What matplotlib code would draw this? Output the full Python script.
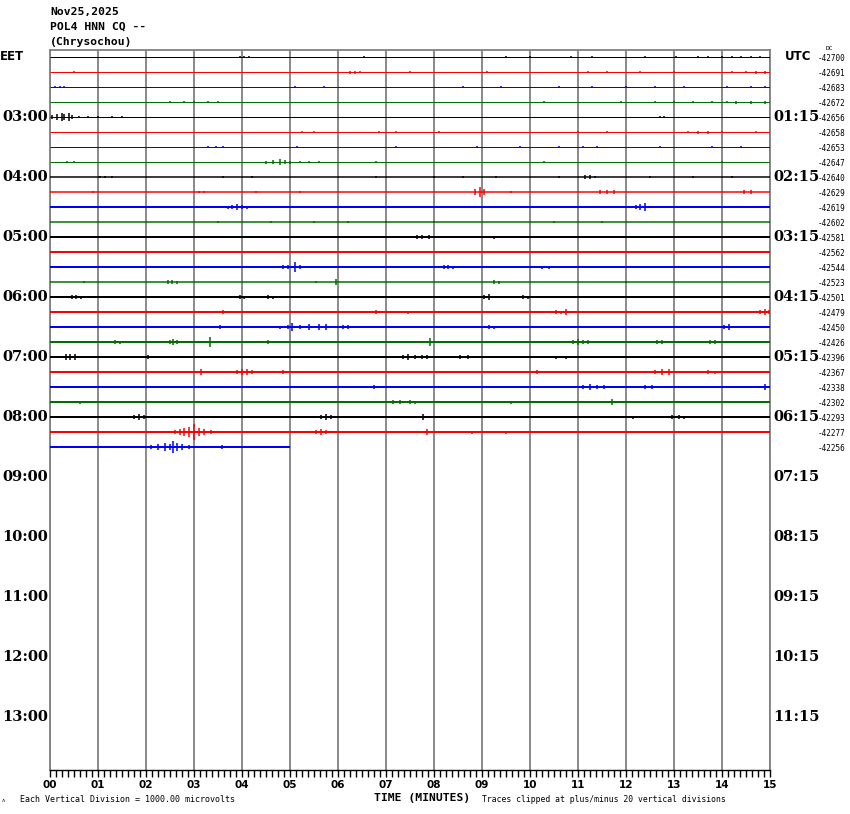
import matplotlib
matplotlib.use("Agg")
import matplotlib.pyplot as plt

# helicorder POL4 HNN CQ, one row = 15 minutes
title_lines = ["Nov25,2025", "POL4 HNN CQ --", "(Chrysochou)"]
trace_colors = ["#000000", "#ff0000", "#0000ff", "#006e00"]
left_labels = ["EET", "03:00", "04:00", "05:00", "06:00", "07:00", "08:00",
               "09:00", "10:00", "11:00", "12:00", "13:00"]
right_labels = ["UTC", "01:15", "02:15", "03:15", "04:15", "05:15", "06:15",
                "07:15", "08:15", "09:15", "10:15", "11:15"]
dc_offsets = [-42700, -42691, -42683, -42672, -42656, -42658, -42653, -42647,
              -42640, -42629, -42619, -42602, -42581, -42562, -42544, -42523,
              -42501, -42479, -42450, -42426, -42396, -42367, -42338, -42302,
              -42293, -42277, -42256]
# minutes covered by each row (last row still recording)
row_end = [15] * 26 + [5.0]
# background noise level of each row, pixels
noise_px = [1, 1, 1, 1, 1, 1, 1, 1, 1.5, 1.5, 2, 1.5, 2, 2, 2, 1.5,
            2, 2, 2, 2, 2, 2, 2, 2, 2, 2, 2]
# (minute, half amplitude in pixels) of the visible wiggles in every row
trace_events = [
    [(3.95, 1), (4.05, 1), (4.15, 1), (6.55, 1), (9.5, 1), (10.0, 1), (10.85, 1), (11.3, 1),
     (12.4, 1), (13.05, 1), (13.5, 1), (13.7, 1), (14.0, 1), (14.2, 1), (14.4, 1), (14.6, 1), (14.8, 1)],
    [(0.5, 1), (6.25, 1.5), (6.35, 1.5), (6.45, 1), (7.5, 1), (9.1, 1), (11.2, 1), (11.6, 1),
     (12.3, 1), (13.0, 1), (14.2, 1), (14.5, 1), (14.7, 1.5), (14.9, 1.5)],
    [(0.1, 1), (0.2, 1), (0.3, 1), (5.1, 1), (5.7, 1), (8.6, 1), (9.4, 1), (10.6, 1), (11.3, 1),
     (12.0, 1), (12.6, 1), (13.2, 1), (14.1, 1), (14.6, 1), (14.9, 1)],
    [(2.5, 1), (2.8, 1), (3.0, 1), (3.3, 1), (3.5, 1), (10.3, 1), (11.9, 1), (12.6, 1), (13.0, 1),
     (13.4, 1), (13.8, 1), (14.1, 1), (14.3, 1.5), (14.6, 1.5), (14.9, 1.5)],
    [(0.05, 2), (0.15, 3), (0.25, 4), (0.3, 3), (0.4, 4), (0.45, 2), (0.6, 1), (0.8, 1), (1.0, 1),
     (1.3, 1), (1.5, 1), (12.7, 1), (12.8, 1)],
    [(5.25, 1), (5.5, 1), (6.85, 1), (7.2, 1), (8.1, 1), (11.0, 1), (11.6, 1), (13.3, 1),
     (13.5, 1.5), (13.7, 1.5), (14.0, 1), (14.7, 1)],
    [(3.3, 1), (3.45, 1), (3.6, 1), (5.15, 1), (7.2, 1), (8.9, 1), (9.8, 1), (10.6, 1), (11.1, 1),
     (11.4, 1), (12.7, 1), (13.8, 1), (14.4, 1)],
    [(0.35, 1), (0.5, 1), (4.5, 1.5), (4.65, 2), (4.8, 3), (4.9, 2), (5.0, 1.5), (5.2, 1), (5.4, 1),
     (5.6, 1), (6.8, 1), (10.3, 1), (14.0, 1)],
    [(1.05, 1), (1.15, 1), (1.3, 1), (3.6, 1), (4.2, 1), (6.8, 1), (8.0, 1), (8.6, 1), (9.3, 1),
     (10.6, 1), (11.15, 2), (11.25, 2), (11.35, 1), (12.5, 1), (13.4, 1), (14.2, 1)],
    [(0.9, 1), (3.1, 1), (3.2, 1), (4.3, 1), (5.2, 1), (8.85, 3), (8.95, 5), (9.05, 3), (9.6, 1),
     (11.45, 2), (11.6, 2), (11.75, 2), (14.45, 2), (14.6, 2)],
    [(2.0, 1), (2.3, 1), (2.6, 1), (3.7, 1.5), (3.8, 2), (3.9, 3), (4.0, 2), (4.1, 1.5), (5.5, 1),
     (6.2, 1), (12.2, 2), (12.3, 3), (12.4, 4), (13.3, 1), (14.5, 1)],
    [(3.5, 1), (4.6, 1), (5.0, 1), (5.5, 1), (6.2, 1), (7.0, 1), (8.0, 1), (10.5, 1), (11.5, 1)],
    [(1.8, 1), (2.1, 1), (3.3, 1), (3.8, 1), (3.9, 1), (5.5, 1), (6.3, 1), (7.65, 2), (7.75, 2),
     (7.9, 2), (9.25, 1.5), (10.8, 1), (13.5, 1)],
    [(3.45, 1), (4.3, 1), (4.55, 1), (6.2, 1), (6.6, 1), (7.5, 1), (9.0, 1), (11.2, 1), (13.8, 1)],
    [(0.3, 1), (0.5, 1), (1.6, 1), (4.85, 2), (4.95, 2), (5.1, 5), (5.2, 2), (8.2, 2), (8.3, 2),
     (8.4, 1.5), (10.25, 1.5), (10.4, 1.5), (10.5, 1)],
    [(0.7, 1), (2.45, 2), (2.55, 2), (2.65, 1.5), (5.55, 1), (5.95, 3), (9.25, 2), (9.35, 1.5), (12.0, 1)],
    [(0.45, 2), (0.55, 2), (0.65, 1.5), (3.95, 2), (4.05, 1.5), (4.55, 2), (4.65, 1.5), (9.05, 2),
     (9.15, 3), (9.85, 2), (9.95, 1.5)],
    [(3.6, 2), (6.8, 2), (7.45, 1.5), (10.55, 2), (10.65, 1.5), (10.75, 3), (14.8, 2), (14.9, 3), (14.97, 2)],
    [(0.2, 1), (3.55, 2), (4.8, 1.5), (4.95, 2), (5.05, 4), (5.2, 2), (5.4, 3), (5.6, 3), (5.75, 3),
     (6.1, 2), (6.2, 2), (9.15, 2), (9.25, 1.5), (14.05, 2), (14.15, 3)],
    [(1.35, 2), (1.45, 1.5), (2.5, 2), (2.57, 3), (2.65, 2), (3.33, 5), (4.55, 2), (7.92, 4),
     (10.9, 2), (11.0, 3), (11.1, 2), (11.2, 2), (12.65, 2), (12.75, 2), (13.75, 2), (13.85, 2)],
    [(0.33, 3), (0.42, 3), (0.52, 3), (2.05, 2), (7.35, 2), (7.45, 3), (7.6, 2), (7.75, 2),
     (7.85, 2), (8.55, 2), (8.7, 2), (10.55, 1.5), (10.75, 1.5)],
    [(0.2, 1), (3.15, 3), (3.9, 2), (4.0, 3), (4.1, 3), (4.2, 2), (4.85, 2), (10.15, 2), (12.6, 2),
     (12.75, 3), (12.9, 3), (13.7, 2), (13.85, 1.5)],
    [(0.4, 1), (2.2, 1), (6.75, 2), (11.1, 2), (11.25, 3), (11.4, 2), (11.55, 2), (12.4, 2),
     (12.55, 2), (14.9, 3)],
    [(0.62, 1.5), (7.15, 2), (7.3, 2), (7.5, 2), (7.6, 1.5), (9.6, 1.5), (11.7, 3)],
    [(1.75, 2), (1.85, 3), (1.95, 2), (5.65, 2), (5.75, 3), (5.85, 2), (7.78, 3), (12.15, 1.5),
     (12.95, 2), (13.1, 2), (13.2, 1.5)],
    [(2.6, 2), (2.7, 3), (2.8, 4), (2.9, 5), (3.0, 8), (3.1, 4), (3.2, 3), (3.35, 2), (5.55, 2),
     (5.65, 3), (5.75, 2), (7.85, 3), (8.8, 1.5), (9.5, 1.5)],
    [(0.2, 1), (0.7, 1), (2.1, 2), (2.25, 3), (2.4, 4), (2.5, 3), (2.57, 6), (2.65, 4), (2.75, 3),
     (2.9, 2), (3.58, 2)],
]

W, H = 850, 814
ROW_PX = 15.0
fig = plt.figure(figsize=(W / 100, H / 100), dpi=100)
ax = fig.add_axes([50 / W, 44 / H, 720 / W, 720 / H])
ax.set_xlim(0, 15)
ax.set_ylim((770 - 57) / ROW_PX, (50 - 57) / ROW_PX)

# minute grid
for m in range(16):
    ax.axvline(m, color="#808080", lw=1.3, zorder=1)

for r, events in enumerate(trace_events):
    c = trace_colors[r % 4]
    ax.plot([0, row_end[r]], [r, r], color=c, lw=noise_px[r] * 0.72, solid_capstyle="butt", zorder=3)
    mins = [e[0] for e in events]
    amps = [e[1] / ROW_PX for e in events]
    ax.vlines(mins, [r - a for a in amps], [r + a for a in amps], color=c, lw=1.1, zorder=3)

for s in ["top", "left", "right"]:
    ax.spines[s].set_color("#808080")
    ax.spines[s].set_linewidth(1.3)
ax.spines["bottom"].set_color("black")
ax.spines["bottom"].set_linewidth(1.0)

ax.set_yticks([])
ax.set_xticks(range(16))
ax.set_xticklabels(["%02d" % m for m in range(16)], fontsize=7.5, fontweight="bold",
                   family="DejaVu Sans")
ax.set_xticks([i / 8 for i in range(121)], minor=True)
ax.tick_params(axis="x", which="both", direction="out", length=5, width=1, color="black", pad=2)

yt = ax.get_yaxis_transform()
for i, lab in enumerate(left_labels):
    row = i * 4
    if lab == "EET":
        ax.text(-50 / 720, row, lab, transform=yt, ha="left", va="center",
                fontsize=8.5, fontweight="bold", family="DejaVu Sans")
    else:
        ax.text(-2 / 720, row, lab, transform=yt, ha="right", va="center",
                fontsize=10.5, fontweight="bold", family="DejaVu Serif")
for i, lab in enumerate(right_labels):
    row = i * 4
    if lab == "UTC":
        ax.text(15 / 720 + 1, row, lab, transform=yt, ha="left", va="center",
                fontsize=8.5, fontweight="bold", family="DejaVu Sans")
    else:
        ax.text(3 / 720 + 1, row, lab, transform=yt, ha="left", va="center",
                fontsize=10.5, fontweight="bold", family="DejaVu Serif")
for r, v in enumerate(dc_offsets):
    ax.text(48 / 720 + 1, r + 0.07, str(v), transform=yt, ha="left", va="center",
            fontsize=5.5, family="DejaVu Sans Mono")
fig.text(826 / W, 1 - 49 / H, "DC", fontsize=4.5, family="DejaVu Sans Mono", va="center")

for i, line in enumerate(title_lines):
    fig.text(50 / W, 1 - (12 + 15 * i) / H, line, fontsize=8.2, fontweight="bold",
             family="DejaVu Sans Mono", va="center")

fig.text(2 / W, 1 - 801 / H, "\u028c", fontsize=4, va="center")
fig.text(20 / W, 1 - 800 / H, "Each Vertical Division = 1000.00 microvolts",
         fontsize=6, family="DejaVu Sans Mono", va="center")
fig.text(374 / W, 1 - 798 / H, "TIME (MINUTES)", fontsize=8.2, fontweight="bold",
         family="DejaVu Sans Mono", va="center")
fig.text(482 / W, 1 - 800 / H, "Traces clipped at plus/minus 20 vertical divisions",
         fontsize=5.9, family="DejaVu Sans Mono", va="center")

fig.savefig("out.png", dpi=100, facecolor="white")
